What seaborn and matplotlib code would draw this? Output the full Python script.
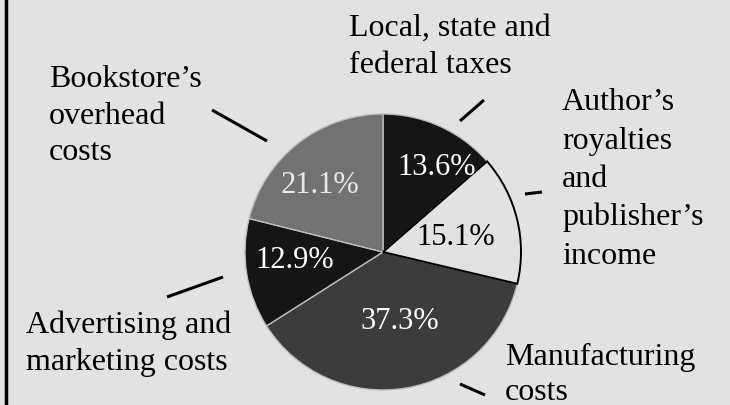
import numpy as np
import matplotlib
matplotlib.use('Agg')
import matplotlib.pyplot as plt
import seaborn as sns

sns.set_style('white')
plt.rcParams['font.family'] = ['Liberation Serif', 'DejaVu Serif']

# slice data, clockwise from 12 o'clock
shares = [13.6, 15.1, 37.3, 12.9, 21.1]
pct_labels = ['13.6%', '15.1%', '37.3%', '12.9%', '21.1%']
slice_colors = ['#151515', '#e2e2e2', '#3c3c3c', '#151515', '#727272']
pct_colors = ['white', 'black', 'white', 'white', '#e8e8e8']

# category captions (one entry per line of text)
captions = [
    ['Local, state and', 'federal taxes'],
    ["Author\u2019s", 'royalties', 'and', "publisher\u2019s", 'income'],
    ['Manufacturing', 'costs'],
    ['Advertising and', 'marketing costs'],
    ["Bookstore\u2019s", 'overhead', 'costs'],
]

W, H = 730, 406
bg = '#e2e2e2'
cx, cy, R = 383, H - 253, 138

fig = plt.figure(figsize=(7.3, 4.06), dpi=100)
fig.patch.set_facecolor(bg)
ax = fig.add_axes([0, 0, 1, 1])
ax.set_facecolor(bg)

wedges, _ = ax.pie(shares, colors=slice_colors, startangle=90, counterclock=False,
                   center=(cx, cy), radius=R,
                   wedgeprops=dict(edgecolor='#bdbdbd', linewidth=1.0))
wedges[1].set_edgecolor('black')
wedges[1].set_linewidth(1.4)
wedges[1].set_zorder(3)

ax.set_xlim(0, W)
ax.set_ylim(0, H)
ax.set_aspect('equal')
ax.axis('off')

# percentage labels: (angle in deg, radius fraction) chosen to sit like the printed figure
pct_pos = [(58, 0.73), (12, 0.54), (-76, 0.51), (185, 0.64), (133, 0.67)]
for lab, col, (ang, rf) in zip(pct_labels, pct_colors, pct_pos):
    a = np.deg2rad(ang)
    ax.text(cx + rf * R * np.cos(a), cy + rf * R * np.sin(a), lab, color=col,
            fontsize=22, ha='center', va='center', zorder=5)

# caption blocks: left x, first baseline (image px from top), line step
cap_pos = [(349, 36, 37), (562, 110, 38.5), (505, 365, 35), (26, 333, 37), (49, 87, 36.5)]
for lines, (x0, y0, step) in zip(captions, cap_pos):
    for i, s in enumerate(lines):
        ax.text(x0, H - (y0 + i * step), s, fontsize=23, ha='left', va='baseline',
                color='black')

# leader lines (image px)
leaders = [((460, 122), (484, 101)), ((525, 195), (542, 193)), ((460, 385), (485, 396)),
           ((167, 298), (223, 278)), ((212, 111), (267, 142))]
for (x1, y1), (x2, y2) in leaders:
    ax.plot([x1, x2], [H - y1, H - y2], color='black', lw=2.2, solid_capstyle='butt')

# page border on the left
ax.plot([6, 6], [0, H], color='black', lw=2.5)

fig.savefig('out.png', dpi=100, facecolor=bg)
